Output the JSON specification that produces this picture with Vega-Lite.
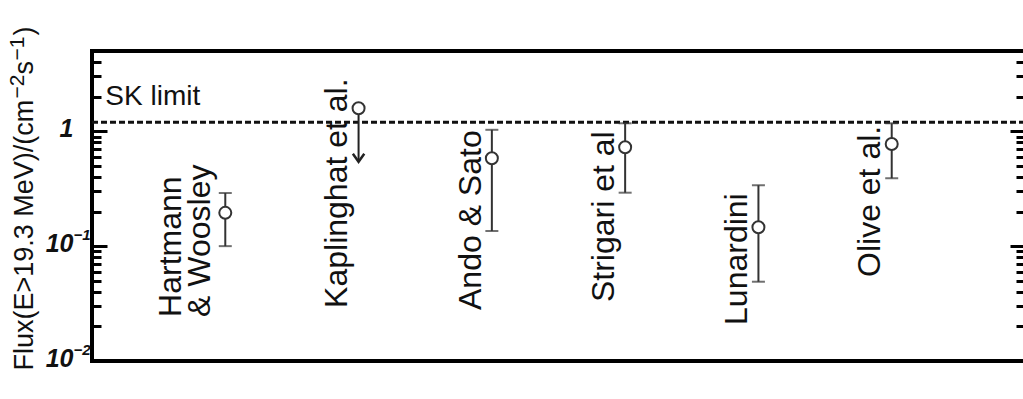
{
  "$schema": "https://vega.github.io/schema/vega-lite/v6.json",
  "width": 933,
  "height": 310,
  "autosize": {"type": "none"},
  "padding": {"left": 92, "top": 51, "right": 0, "bottom": 38},
  "background": "white",
  "config": {
    "view": {"stroke": "#000", "strokeWidth": 4},
    "axis": {"grid": false, "domain": false, "tickColor": "#000", "tickWidth": 3, "labelColor": "#111", "titleColor": "#111",
             "titleFont": "Liberation Sans", "titleFontWeight": "normal", "titleAngle": 270, "titleAlign": "left", "titleBaseline": "alphabetic",
             "labelFont": "Liberation Sans", "labelFontWeight": "bold", "labelFontStyle": "italic", "labelFlush": false, "labelOverlap": false, "labelBound": false}
  },
  "data": {
    "values": [
      {"name": "Hartmann\n& Woosley", "x": 1, "flux": 0.195, "lo": 0.1, "hi": 0.29, "lx": 0.593, "ly": 0.0242},
      {"name": "Kaplinghat et al.", "x": 2, "flux": 1.585, "limit": 0.543, "lx": 1.84, "ly": 0.029},
      {"name": "Ando & Sato", "x": 3, "flux": 0.582, "lo": 0.1355, "hi": 1.03, "lx": 2.84, "ly": 0.0278},
      {"name": "Strigari et al", "x": 4, "flux": 0.726, "lo": 0.292, "hi": 1.174, "lx": 3.84, "ly": 0.0326},
      {"name": "Lunardini", "x": 5, "flux": 0.146, "lo": 0.049, "hi": 0.339, "lx": 4.84, "ly": 0.0206},
      {"name": "Olive et al.", "x": 6, "flux": 0.776, "lo": 0.39, "hi": 1.174, "lx": 5.84, "ly": 0.0539}
    ]
  },
  "resolve": {"axis": {"y": "independent"}},
  "layer": [
    {
      "data": {"values": [{}]},
      "mark": {"type": "rule", "strokeDash": [6, 3], "strokeWidth": 3, "color": "#111"},
      "encoding": {
        "y": {"datum": 1.2, "type": "quantitative", "scale": {"type": "log", "domain": [0.01, 5], "nice": false}, "axis": null}
      }
    },
    {
      "transform": [{"filter": "isValid(datum.lo)"}],
      "mark": {"type": "rule", "strokeWidth": 2, "color": "#333"},
      "encoding": {
        "x": {"field": "x", "type": "quantitative", "scale": {"domain": [0, 7], "nice": false}, "axis": null},
        "y": {
          "field": "lo", "type": "quantitative",
          "scale": {"type": "log", "domain": [0.01, 5], "nice": false},
          "axis": {
            "orient": "left", "values": [0.01, 0.1, 1], "ticks": false,
            "labelExpr": "datum.value >= 0.5 ? '1' : '10'",
            "labelFontSize": 25, "labelPadding": 19, "labelBaseline": "middle", "labelOffset": -3,
            "title": "Flux(E>19.3 MeV)/(cm", "titleFontSize": 27, "titleX": -60, "titleY": 319
          }
        },
        "y2": {"field": "hi"}
      }
    },
    {
      "transform": [{"filter": "isValid(datum.lo)"}],
      "mark": {"type": "tick", "orient": "horizontal", "size": 13, "thickness": 2, "color": "#333"},
      "encoding": {
        "x": {"field": "x", "type": "quantitative", "scale": {"domain": [0, 7], "nice": false}, "axis": null},
        "y": {
          "field": "lo", "type": "quantitative",
          "scale": {"type": "log", "domain": [0.01, 5], "nice": false},
          "axis": {"orient": "left", "values": [0.01, 0.1, 1], "tickSize": -15, "labels": false,
                   "title": "s", "titleFontSize": 27, "titleX": -60, "titleY": 23}
        }
      }
    },
    {
      "transform": [{"filter": "isValid(datum.hi)"}],
      "mark": {"type": "tick", "orient": "horizontal", "size": 13, "thickness": 2, "color": "#333"},
      "encoding": {
        "x": {"field": "x", "type": "quantitative", "scale": {"domain": [0, 7], "nice": false}, "axis": null},
        "y": {
          "field": "hi", "type": "quantitative",
          "scale": {"type": "log", "domain": [0.01, 5], "nice": false},
          "axis": {"orient": "left", "values": [0.02, 0.03, 0.04, 0.05, 0.06, 0.07, 0.08, 0.09, 0.2, 0.3, 0.4, 0.5, 0.6, 0.7, 0.8, 0.9, 2, 3, 4, 5], "tickSize": -9, "labels": false,
                   "title": "−1", "titleFontSize": 21, "titleX": -69, "titleY": 9}
        }
      }
    },
    {
      "transform": [{"filter": "isValid(datum.limit)"}],
      "mark": {"type": "rule", "strokeWidth": 2, "color": "#222"},
      "encoding": {
        "x": {"field": "x", "type": "quantitative", "scale": {"domain": [0, 7], "nice": false}, "axis": null},
        "y": {
          "field": "flux", "type": "quantitative",
          "scale": {"type": "log", "domain": [0.01, 5], "nice": false},
          "axis": {"orient": "right", "values": [0.01, 0.1, 1], "tickSize": -15, "labels": false, "title": null}
        },
        "y2": {"field": "limit"}
      }
    },
    {
      "transform": [{"filter": "isValid(datum.limit)"}],
      "mark": {"type": "point", "shape": "M-1,-1.4L0,0L1,-1.4", "filled": false, "size": 130, "strokeWidth": 2.5, "color": "#222", "opacity": 1},
      "encoding": {
        "x": {"field": "x", "type": "quantitative", "scale": {"domain": [0, 7], "nice": false}, "axis": null},
        "y": {
          "field": "limit", "type": "quantitative",
          "scale": {"type": "log", "domain": [0.01, 5], "nice": false},
          "axis": {"orient": "right", "values": [0.02, 0.03, 0.04, 0.05, 0.06, 0.07, 0.08, 0.09, 0.2, 0.3, 0.4, 0.5, 0.6, 0.7, 0.8, 0.9, 2, 3, 4, 5], "tickSize": -9, "labels": false, "title": null}
        }
      }
    },
    {
      "mark": {"type": "point", "shape": "circle", "filled": true, "size": 144, "fill": "white", "stroke": "#333", "strokeWidth": 2, "opacity": 1},
      "encoding": {
        "x": {"field": "x", "type": "quantitative", "scale": {"domain": [0, 7], "nice": false}, "axis": null},
        "y": {
          "field": "flux", "type": "quantitative",
          "scale": {"type": "log", "domain": [0.01, 5], "nice": false},
          "axis": {
            "orient": "left", "values": [0.01, 0.1, 1], "ticks": false,
            "labelExpr": "datum.value >= 0.5 ? '' : datum.value >= 0.05 ? '−1' : '−2'",
            "labelFontSize": 15, "labelPadding": 2, "labelBaseline": "middle", "labelOffset": -12,
            "title": "−2", "titleFontSize": 21, "titleX": -69, "titleY": 47
          }
        }
      }
    },
    {
      "mark": {"type": "text", "angle": 270, "align": "left", "baseline": "middle", "font": "Liberation Sans", "fontSize": 32, "lineBreak": "\n", "lineHeight": 29, "color": "#111"},
      "encoding": {
        "x": {"field": "lx", "type": "quantitative", "scale": {"domain": [0, 7], "nice": false}, "axis": null},
        "y": {
          "field": "ly", "type": "quantitative",
          "scale": {"type": "log", "domain": [0.01, 5], "nice": false},
          "axis": {"orient": "left", "values": [0.01], "ticks": false, "labels": false,
                   "title": ")", "titleFontSize": 27, "titleX": -60, "titleY": -16}
        },
        "text": {"field": "name"}
      }
    },
    {
      "data": {"values": [{"label": "SK limit"}]},
      "mark": {"type": "text", "align": "left", "baseline": "alphabetic", "font": "Liberation Sans", "fontSize": 28, "dy": -17, "color": "#111"},
      "encoding": {
        "x": {"datum": 0.1, "type": "quantitative", "scale": {"domain": [0, 7], "nice": false}, "axis": null},
        "y": {"datum": 1.2, "type": "quantitative", "scale": {"type": "log", "domain": [0.01, 5], "nice": false}, "axis": null},
        "text": {"field": "label"}
      }
    }
  ]
}
